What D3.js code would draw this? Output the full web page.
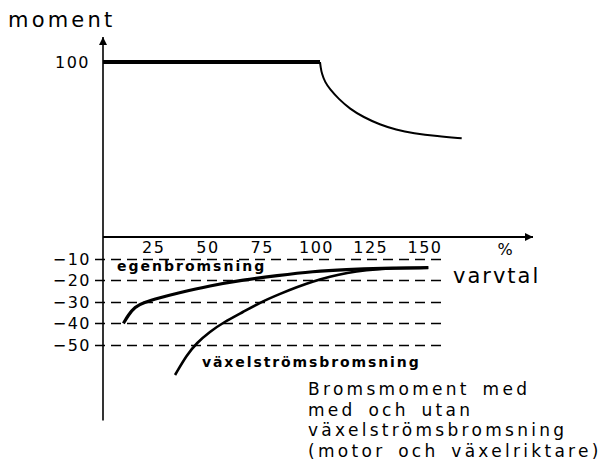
<!DOCTYPE html>
<html>
<head>
<meta charset="utf-8">
<script src="https://cdn.jsdelivr.net/npm/d3@7"></script>
<style>
  html, body { margin: 0; padding: 0; background: #fff; }
  svg { display: block; font-family: "DejaVu Sans", sans-serif; }
</style>
</head>
<body>
<svg id="chart" width="609" height="461"></svg>
<script>
// Speed (% of nominal) tick labels and braking torque grid levels
const speedTicks = [25, 50, 75, 100, 125, 150];
const brakeLevels = [-10, -20, -30, -40, -50];

// Motor torque: constant up to nominal speed, then falls off
const constTorqueSpeed = [0, 100];
const constTorqueValue = [100, 100];
const fieldWeakSpeed = [100, 100.3, 100.8, 102.3, 104.6, 108.5, 113.8, 120, 127.6, 135, 143, 154, 165.3];
const fieldWeakValue = [100, 97, 93.5, 88.5, 84.4, 79, 73.2, 68.5, 64.2, 61.3, 59.3, 57.6, 56.4];

// Braking torque without AC braking (egenbromsning)
const ownBrakeSpeed = [9.4, 11.7, 14.7, 18.6, 26.3, 34.0, 49.3, 64.7, 80.0, 96.9, 112.3, 127.6, 149.9];
const ownBrakeValue = [-40.0, -36.1, -32.3, -30.4, -28.1, -26.1, -22.5, -19.9, -17.9, -15.9, -15.0, -14.5, -14.2];

// Braking torque with AC braking (växelströmsbromsning)
const acBrakeSpeed = [33.2, 38.6, 43.2, 49.3, 55.4, 64.7, 72.4, 81.6, 89.3, 96.9, 104.6, 112.3, 121.5, 130, 140, 149.9];
const acBrakeValue = [-63.9, -54.6, -49.0, -43.8, -39.6, -34.6, -30.3, -26.3, -23.2, -20.5, -18.3, -16.6, -15.3, -14.6, -14.3, -14.2];

const caption = ["Bromsmoment med", "med och utan", "växelströmsbromsning", "(motor och växelriktare)"];

const svg = d3.select("#chart");

// Speed axis; the torque axis is drawn with a different scale below zero
const x = d3.scaleLinear().domain([0, 150]).range([103, 428.5]);
const y = d3.scaleLinear().domain([-50, 0, 100]).range([345, 237, 62]);

const zip = (a, b) => a.map((v, i) => [v, b[i]]);

// arrowheads
const defs = svg.append("defs");
defs.append("marker")
  .attr("id", "arrow").attr("viewBox", "0 0 10 10")
  .attr("refX", 10).attr("refY", 5)
  .attr("markerUnits", "userSpaceOnUse")
  .attr("markerWidth", 10).attr("markerHeight", 8)
  .attr("orient", "auto")
  .append("path").attr("d", "M0,0 L10,5 L0,10 Z").attr("fill", "#000");

// dashed grid for braking levels
const grid = svg.append("g");
grid.selectAll("line").data(brakeLevels).join("line")
  .attr("x1", 95).attr("x2", x(156.5))
  .attr("y1", d => Math.round(y(d)) + 0.5).attr("y2", d => Math.round(y(d)) + 0.5)
  .attr("stroke", "#000").attr("stroke-width", 1.3)
  .attr("stroke-dasharray", "10,6");

// torque axis
svg.append("line")
  .attr("x1", x(0)).attr("x2", x(0))
  .attr("y1", y(-85)).attr("y2", 37)
  .attr("stroke", "#000").attr("stroke-width", 1.6)
  .attr("marker-end", "url(#arrow)");

// speed axis
svg.append("line")
  .attr("x1", x(0)).attr("x2", 533)
  .attr("y1", y(0)).attr("y2", y(0))
  .attr("stroke", "#000").attr("stroke-width", 1.8)
  .attr("marker-end", "url(#arrow)");

// speed tick labels
const xAxis = d3.axisBottom(x).tickValues(speedTicks).tickSize(0).tickPadding(0);
const gx = svg.append("g").attr("transform", `translate(0,${y(0)})`).call(xAxis);
gx.select(".domain").remove();
gx.selectAll("text")
  .attr("y", 16).attr("dy", 0).attr("dx", -4)
  .attr("font-size", 16).attr("letter-spacing", 1.5)
  .attr("font-family", "DejaVu Sans").attr("fill", "#000");

// braking level labels
svg.append("g").selectAll("text").data(brakeLevels).join("text")
  .attr("x", 91).attr("y", d => y(d) + 6)
  .attr("text-anchor", "end")
  .attr("font-size", 16).attr("letter-spacing", 1.5)
  .text(d => "\u2212" + Math.abs(d));

// 100 label
svg.append("text")
  .attr("x", 90).attr("y", y(100) + 6)
  .attr("text-anchor", "end")
  .attr("font-size", 16).attr("letter-spacing", 1.5)
  .text("100");

// axis titles
svg.append("text").attr("x", 8).attr("y", 27)
  .attr("font-size", 21).attr("letter-spacing", 3.2).text("moment");
svg.append("text").attr("x", 505).attr("y", 255)
  .attr("text-anchor", "middle").attr("font-size", 16).text("%");
svg.append("text").attr("x", 453).attr("y", 283)
  .attr("font-size", 21).attr("letter-spacing", 2).text("varvtal");

// curves
const line = d3.line().x(d => x(d[0])).y(d => y(d[1])).curve(d3.curveBasis);

svg.append("path").datum(zip(constTorqueSpeed, constTorqueValue))
  .attr("d", line).attr("fill", "none").attr("stroke", "#000").attr("stroke-width", 4);
svg.append("path").datum(zip(fieldWeakSpeed, fieldWeakValue))
  .attr("d", line).attr("fill", "none").attr("stroke", "#000").attr("stroke-width", 2);
svg.append("path").datum(zip(acBrakeSpeed, acBrakeValue))
  .attr("d", line).attr("fill", "none").attr("stroke", "#000").attr("stroke-width", 2.6);
svg.append("path").datum(zip(ownBrakeSpeed, ownBrakeValue))
  .attr("d", line).attr("fill", "none").attr("stroke", "#000").attr("stroke-width", 3.2);

// curve labels
svg.append("text").attr("x", 117).attr("y", 271)
  .attr("font-size", 14).attr("font-weight", "bold").attr("letter-spacing", 2)
  .text("egenbromsning");
svg.append("text").attr("x", 202).attr("y", 367)
  .attr("font-size", 14).attr("font-weight", "bold").attr("letter-spacing", 1.9)
  .text("växelströmsbromsning");

// caption
svg.append("g").selectAll("text").data(caption).join("text")
  .attr("x", 308).attr("y", (d, i) => 395 + i * 20.7)
  .attr("font-size", 17).attr("letter-spacing", 3.3).attr("word-spacing", 4)
  .text(d => d);
</script>
</body>
</html>
